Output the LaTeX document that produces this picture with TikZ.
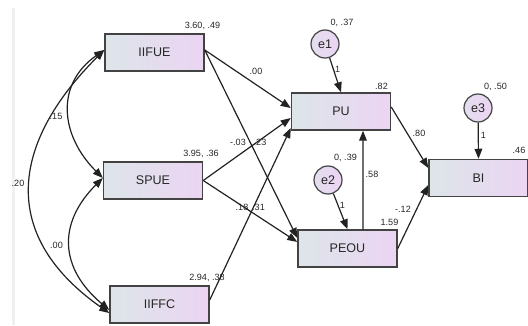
\documentclass[tikz,border=0pt]{standalone}
\usepackage{fontspec}
\setmainfont{Liberation Sans}
\usetikzlibrary{arrows.meta}

\definecolor{boxleft}{HTML}{DDE5E9}
\definecolor{boxright}{HTML}{EBD5F3}
\definecolor{linegray}{HTML}{222222}

\tikzset{
  observed/.style = {shape=rectangle, draw=linegray!85, line width=1.1pt,
                     left color=boxleft, right color=boxright,
                     minimum width=74.25pt, minimum height=27.75pt,
                     inner sep=0pt, font=\fontsize{9.4}{10}\selectfont},
  residual/.style = {shape=circle, draw=linegray!85, line width=0.9pt,
                     left color=boxleft!50!boxright, right color=boxright,
                     minimum size=21pt, inner sep=0pt,
                     font=\fontsize{9.4}{10}\selectfont},
  estimate/.style = {font=\fontsize{6.8}{7}\selectfont, inner sep=0pt},
  regpath/.style  = {draw=linegray, line width=0.9pt, ->},
  covpath/.style  = {draw=linegray, line width=0.9pt, <->}
}

\begin{document}
\begin{tikzpicture}
  [
    x                 = 0.75pt,
    y                 = 0.75pt,
    >                 = {Triangle[length=7.5pt, width=5.8pt]},
    every node/.style = {text=black!85}
  ]
  \useasboundingbox (0,0) rectangle (528,325);
  \draw [gray!12, line width=2.25pt] (13.5,0) -- (13.5,317);

  \node [observed] (IIFUE) at (154.5,272.5) {IIFUE};
  \node [observed] (SPUE)  at (153,144.5)   {SPUE};
  \node [observed] (IIFFC) at (159.5,20.5)  {IIFFC};
  \node [observed] (PU)    at (341,213.5)   {PU};
  \node [observed] (PEOU)  at (347.5,76.5)  {PEOU};
  \node [observed] (BI)    at (478.5,147)   {BI};

  \node [residual] (e1) at (325,281) {e1};
  \node [residual] (e2) at (328,145) {e2};
  \node [residual] (e3) at (478,217) {e3};

  % means, variances, intercepts
  \node [estimate] (IIFUEmv) at (202.5,299) {3.60, .49};
  \node [estimate] (SPUEmv)  at (201,171)   {3.95, .36};
  \node [estimate] (IIFFCmv) at (207,47)    {2.94, .38};
  \node [estimate] (e1mv)    at (342,302)   {0, .37};
  \node [estimate] (e2mv)    at (345.5,167) {0, .39};
  \node [estimate] (e3mv)    at (495.5,238) {0, .50};
  \node [estimate] (PUint)   at (381.5,239) {.82};
  \node [estimate] (PEOUint) at (389.5,103) {1.59};
  \node [estimate] (BIint)   at (519,174.5) {.46};

  % regression weights
  \node [estimate] (wIIFUEPU)   at (256,253.3) {.00};
  \node [estimate] (wIIFUEPEOU) at (238,183)   {-.03};
  \node [estimate] (wSPUEPU)    at (260,183)   {.23};
  \node [estimate] (wSPUEPEOU)  at (242,118)   {.18};
  \node [estimate] (wIIFFCPU)   at (258.5,118) {.31};
  \node [estimate] (wPEOUPU)    at (372,150.5) {.58};
  \node [estimate] (wPUBI)      at (419,192)   {.80};
  \node [estimate] (wPEOUBI)    at (403,115.5) {-.12};
  \node [estimate] (we1)        at (337.7,255.7) {1};
  \node [estimate] (we2)        at (342.3,119.7) {1};
  \node [estimate] (we3)        at (483.3,190)   {1};

  % covariances
  \node [estimate] (cIIFUESPUE)  at (56,208.5)  {.15};
  \node [estimate] (cIIFUEIIFFC) at (18,141.5)  {.20};
  \node [estimate] (cSPUEIIFFC)  at (56.5,79.5) {.00};

  \draw [regpath] ([yshift=1.9pt]IIFUE.east) -- ([yshift=2.6pt]PU.west);
  \draw [regpath] ([yshift=1.9pt]IIFUE.east) -- ([yshift=7.9pt]PEOU.west);
  \draw [regpath] (SPUE.east) -- ([yshift=-4.9pt]PU.west);
  \draw [regpath] (SPUE.east) -- ([yshift=4.9pt]PEOU.west);
  \draw [regpath] ([yshift=3.4pt]IIFFC.east) -- ([yshift=-12.4pt]PU.west);
  \draw [regpath] ([xshift=11.6pt]PEOU.north) -- ([xshift=16.5pt]PU.south);
  \draw [regpath] ([yshift=3.4pt]PU.east) -- ([yshift=7.5pt]BI.west);
  \draw [regpath] (PEOU.east) -- ([yshift=-5.25pt]BI.west);
  \draw [regpath] (e1) -- (PU.north);
  \draw [regpath] (e2) -- (PEOU.north);
  \draw [regpath] (e3) -- (BI.north);

  \draw [covpath] ([yshift=1.9pt]SPUE.west)
    to [out=135, in=215, looseness=1.2] ([yshift=1.9pt]IIFUE.west);
  \draw [covpath] ([yshift=-4.1pt]IIFFC.west)
    to [out=140, in=225, looseness=1.25] ([yshift=1.9pt]SPUE.west);
  \draw [covpath] ([yshift=-6.4pt]IIFFC.west)
    to [out=145, in=225, looseness=1.3] ([yshift=1.9pt]IIFUE.west);
\end{tikzpicture}
\end{document}
